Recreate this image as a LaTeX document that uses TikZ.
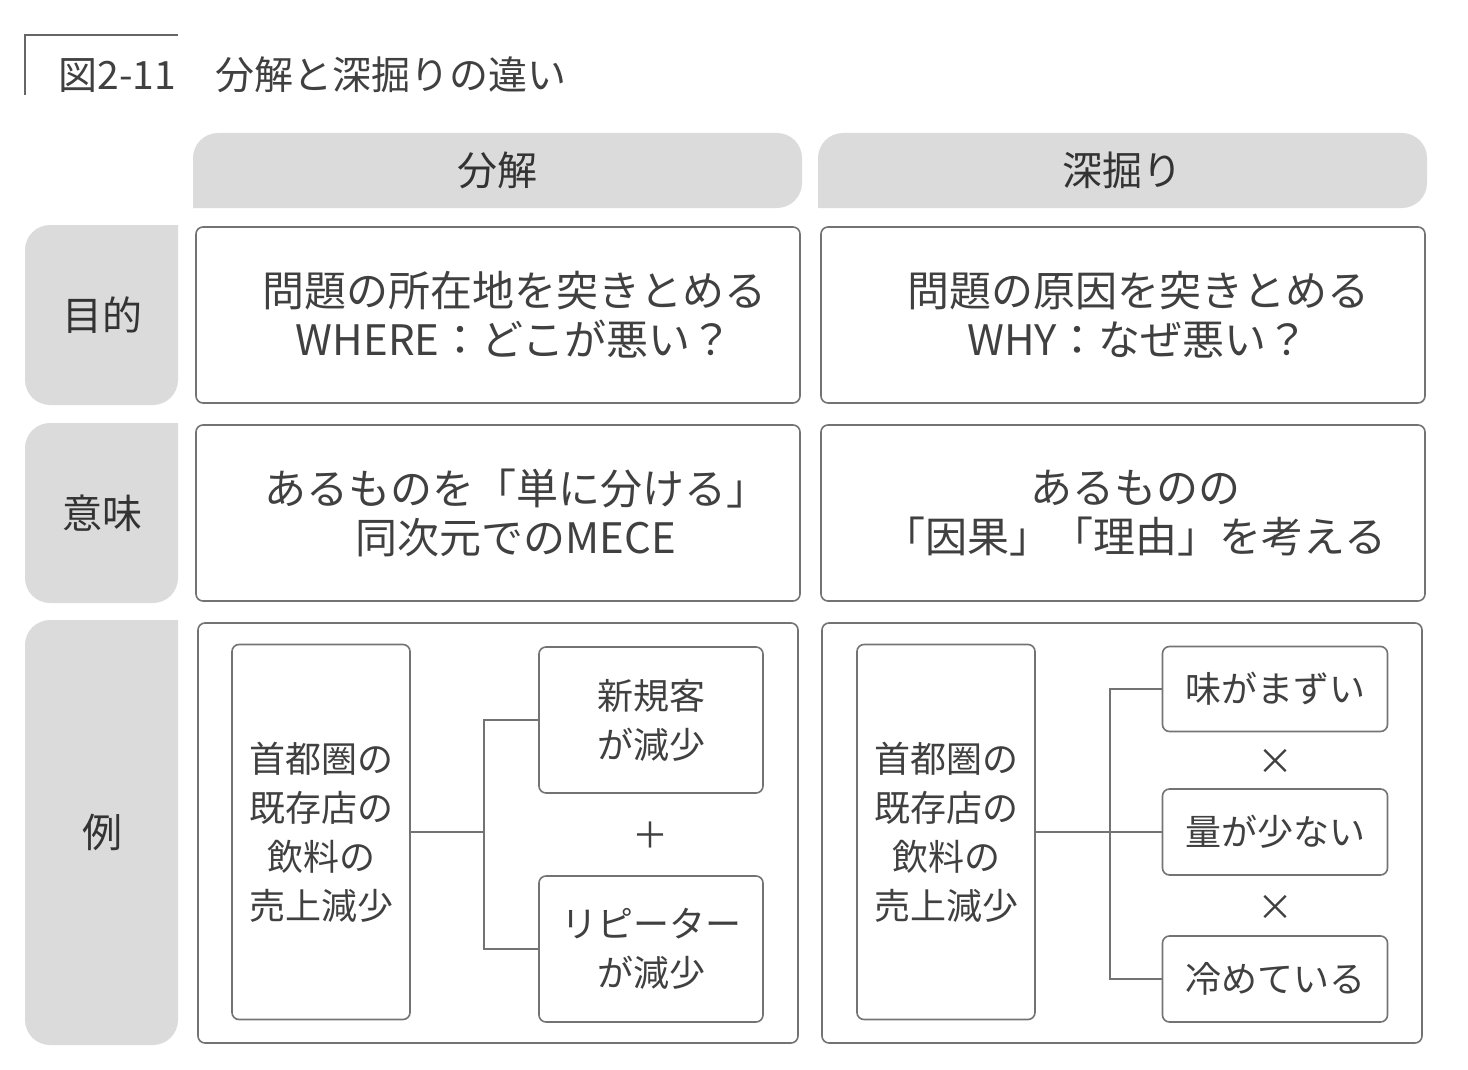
\documentclass[tikz,border=0pt]{standalone}
\usepackage{fontspec}
\setmainfont{Noto Sans CJK JP}
\begin{document}
\begin{tikzpicture}[x=1pt,y=-1pt,
  txt/.style={text=black!75,font=\fontsize{36}{49}\selectfont,align=center},
  wide/.style={txt,font=\fontsize{42}{49}\selectfont},
  big/.style={text=black!80,font=\fontsize{40}{46}\selectfont},
  box/.style={draw=black!55,line width=1.6pt,rounded corners=7pt},
  sbox/.style={draw=black!55,line width=1.6pt,rounded corners=7pt},
  tab/.style={fill=black!14},
  ln/.style={draw=black!55,line width=1.6pt}]
\useasboundingbox (0,0) rectangle (1468,1070);
% title
\draw[black!60,line width=1.2pt] (25,95) -- (25,35) -- (178,35);
\node[anchor=west,text=black!75,font=\fontsize{39}{42}\selectfont] (title) at (55,75) {図2-11\quad 分解と深掘りの違い};
% header tabs
\fill[tab,rounded corners=25pt] (193,208) -- (193,133) -- (802,133) -- (802,208) [sharp corners] -- cycle;
\fill[tab,rounded corners=25pt] (818,208) -- (818,133) -- (1427,133) -- (1427,208) [sharp corners] -- cycle;
\node[big] (h1) at (497,170) {分解};
\node[big] (h2) at (1122,170) {深掘り};
% row tabs
\fill[tab,rounded corners=25pt] (178,225) -- (25,225) -- (25,405) -- (178,405) [sharp corners] -- cycle;
\fill[tab,rounded corners=25pt] (178,423) -- (25,423) -- (25,603) -- (178,603) [sharp corners] -- cycle;
\fill[tab,rounded corners=25pt] (178,620) -- (25,620) -- (25,1045) -- (178,1045) [sharp corners] -- cycle;
\node[big] (r1) at (102,315) {目的};
\node[big] (r2) at (102,513) {意味};
\node[big] (r3) at (102,832) {例};
% content boxes
\draw[box] (196,227) rectangle (800,403);
\draw[box] (821,227) rectangle (1425,403);
\draw[box] (196,425) rectangle (800,601);
\draw[box] (821,425) rectangle (1425,601);
\draw[box] (198,623) rectangle (798,1043);
\draw[box] (822,623) rectangle (1422,1043);
\node[wide] (a1) at (514,315) {問題の所在地を突きとめる\\WHERE：どこが悪い？};
\node[wide] (b1) at (1138,315) {問題の原因を突きとめる\\WHY：なぜ悪い？};
\node[wide] (a2) at (516,513) {あるものを「単に分ける」\\同次元でのMECE};
\node[wide] (b2) at (1135,513) {あるものの\\「因果」「理由」を考える};
% left example
\node[sbox,txt,minimum width=178pt,minimum height=375pt] (la) at (321,832) {首都圏の\\既存店の\\飲料の\\売上減少};
\node[sbox,txt,minimum width=224pt,minimum height=146pt] (lb) at (651,720) {新規客\\が減少};
\node[sbox,txt,minimum width=224pt,minimum height=146pt] (lc) at (651,949) {リピーター\\が減少};
\node[txt] (plus) at (650,835) {＋};
\coordinate (lj) at (484,832);
\draw[ln] (la.east) -- (lj);
\draw[ln] (lb.west) -| (lj) |- (lc.west);
% right example
\node[sbox,txt,minimum width=178pt,minimum height=375pt] (ra) at (946,832) {首都圏の\\既存店の\\飲料の\\売上減少};
\node[sbox,txt,minimum width=225pt,minimum height=85pt] (rb) at (1275,689) {味がまずい};
\node[sbox,txt,minimum width=225pt,minimum height=86pt] (rc) at (1275,832) {量が少ない};
\node[sbox,txt,minimum width=225pt,minimum height=86pt] (rd) at (1275,979) {冷めている};
\node[txt] (x1) at (1275,762) {×};
\node[txt] (x2) at (1275,908) {×};
\coordinate (rj) at (1110,832);
\draw[ln] (ra.east) -- (rc.west);
\draw[ln] (rb.west) -| (rj) |- (rd.west);
\end{tikzpicture}
\end{document}
